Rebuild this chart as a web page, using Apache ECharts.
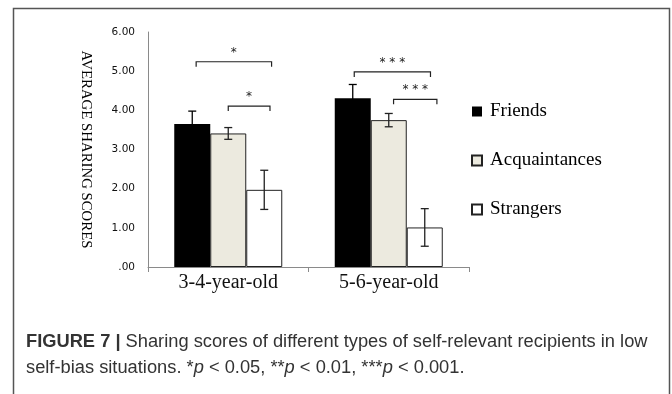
<!DOCTYPE html>
<html>
<head>
<meta charset="utf-8">
<script src="https://cdn.jsdelivr.net/npm/echarts@6/dist/echarts.min.js"></script>
<style>html,body{margin:0;padding:0;background:#fff;}#c{width:672px;height:394px;}</style>
</head>
<body>
<div id="c"></div>
<script>
// ---- data ----
var categories = ['3-4-year-old', '5-6-year-old'];
var seriesNames = ['Friends', 'Acquaintances', 'Strangers'];
var friends = [3.65, 4.31];
var acquaintances = [3.41, 3.75];
var strangers = [1.97, 1.01];
var friendsErr = [0.33, 0.35];
var acquaintancesErr = [0.15, 0.17];
var strangersErr = [0.50, 0.48];
var yTicks = [0, 1, 2, 3, 4, 5, 6];
// significance brackets: [categoryIndex, startFrac, endFrac, yValue, label]
var brackets = [
  [0, -0.20, 0.27, 5.24, '*'],
  [0, 0.00, 0.26, 4.11, '*'],
  [1, -0.215, 0.26, 4.98, '* * *'],
  [1, 0.03, 0.30, 4.28, '* * *']
];

var BAR_W = 36;
var values = [friends, acquaintances, strangers];
var errs = [friendsErr, acquaintancesErr, strangersErr];
var colors = ['#000000', '#ECEADF', '#FFFFFF'];

var errData = [];
for (var s = 0; s < 3; s++) {
  for (var c = 0; c < categories.length; c++) {
    errData.push([c, s, values[s][c], errs[s][c]]);
  }
}

var chart = echarts.init(document.getElementById('c'));
var serif = '"Liberation Serif", "Times New Roman", serif';
var sans = '"Liberation Sans", Arial, sans-serif';

var barSeries = seriesNames.map(function (n, i) {
  return {
    name: n,
    type: 'bar',
    data: values[i],
    barWidth: BAR_W,
    barGap: '0%',
    itemStyle: {
      color: colors[i],
      borderColor: i === 0 ? '#000' : '#222',
      borderWidth: i === 0 ? 0 : 1
    },
    emphasis: { disabled: true },
    z: 2
  };
});

var option = {
  animation: false,
  backgroundColor: '#fff',
  grid: { left: 148, top: 32, right: 203, bottom: 127, containLabel: false },
  legend: {
    orient: 'vertical',
    left: 471,
    top: 102,
    padding: 0,
    itemWidth: 10,
    itemHeight: 10,
    itemGap: 30,
    icon: 'rect',
    data: seriesNames,
    textStyle: { fontFamily: serif, fontSize: 19, color: '#000', lineHeight: 19, padding: [0, 0, 0, 3] }
  },
  xAxis: {
    type: 'category',
    data: categories,
    axisLine: { lineStyle: { color: '#8a8a8a', width: 1 } },
    axisTick: { show: true, length: 5, lineStyle: { color: '#8a8a8a' } },
    axisLabel: { fontFamily: serif, fontSize: 20, color: '#111', margin: 6 }
  },
  yAxis: {
    type: 'value',
    min: 0,
    max: 6,
    interval: 1,
    name: 'AVERAGE SHARING SCORES',
    nameLocation: 'middle',
    nameRotate: -90,
    nameGap: 55,
    nameTextStyle: { fontFamily: serif, fontSize: 14.8, color: '#000' },
    splitLine: { show: false },
    axisLine: { show: true, lineStyle: { color: '#8a8a8a', width: 1 } },
    axisTick: { show: false },
    axisLabel: {
      fontFamily: '"DejaVu Sans", Verdana, sans-serif',
      fontSize: 10.5,
      color: '#111',
      margin: 13,
      formatter: function (v) { return v === 0 ? '.00' : v.toFixed(2); }
    }
  },
  series: barSeries.concat([
    {
      type: 'custom',
      name: 'errors',
      data: errData,
      z: 5,
      silent: true,
      renderItem: function (params, api) {
        var cat = api.value(0), si = api.value(1), v = api.value(2), e = api.value(3);
        var top = api.coord([cat, v + e]);
        var bot = api.coord([cat, v - e]);
        var x = top[0] + (si - 1) * BAR_W;
        var cap = 4;
        var st = { stroke: si === 0 ? '#000' : '#222', lineWidth: 1.3 };
        return {
          type: 'group',
          children: [
            { type: 'line', shape: { x1: x, y1: top[1], x2: x, y2: bot[1] }, style: st },
            { type: 'line', shape: { x1: x - cap, y1: top[1], x2: x + cap, y2: top[1] }, style: st },
            { type: 'line', shape: { x1: x - cap, y1: bot[1], x2: x + cap, y2: bot[1] }, style: st }
          ]
        };
      }
    },
    {
      type: 'custom',
      name: 'brackets',
      data: brackets.map(function (b) { return [b[0], b[1], b[2], b[3]]; }),
      z: 5,
      silent: true,
      renderItem: function (params, api) {
        var b = brackets[params.dataIndex];
        var p = api.coord([b[0], b[3]]);
        var band = api.size([1, 0])[0];
        var x1 = p[0] + b[1] * band, x2 = p[0] + b[2] * band, y = p[1];
        var st = { stroke: '#222', lineWidth: 1.2, fill: null };
        return {
          type: 'group',
          children: [
            { type: 'polyline', shape: { points: [[x1, y + 5], [x1, y], [x2, y], [x2, y + 5]] }, style: st },
            { type: 'text', x: (x1 + x2) / 2, y: y - 3, style: { text: b[4], fill: '#222', font: '12px "DejaVu Sans", sans-serif', align: 'center', verticalAlign: 'bottom' } }
          ]
        };
      }
    }
  ]),
  graphic: [
    {
      type: 'polyline',
      shape: { points: [[13.5, 400], [13.5, 8.5], [669.5, 8.5], [669.5, 400]] },
      style: { stroke: '#555', lineWidth: 1.5, fill: null },
      silent: true
    },
    {
      type: 'text',
      left: 26,
      top: 333,
      style: {
        text: '{b|FIGURE 7 |} Sharing scores of different types of self-relevant recipients in low',
        font: '18.3px ' + sans,
        fill: '#333',
        rich: {
          b: { fontWeight: 'bold', fontSize: 18.3, fontFamily: sans, fill: '#333' }
        }
      }
    },
    {
      type: 'text',
      left: 26,
      top: 359,
      style: {
        text: 'self-bias situations. *{i|p} < 0.05, **{i|p} < 0.01, ***{i|p} < 0.001.',
        font: '18.3px ' + sans,
        fill: '#333',
        rich: {
          i: { fontStyle: 'italic', fontSize: 18.3, fontFamily: sans, fill: '#333' }
        }
      }
    }
  ]
};
chart.setOption(option);
</script>
</body>
</html>
